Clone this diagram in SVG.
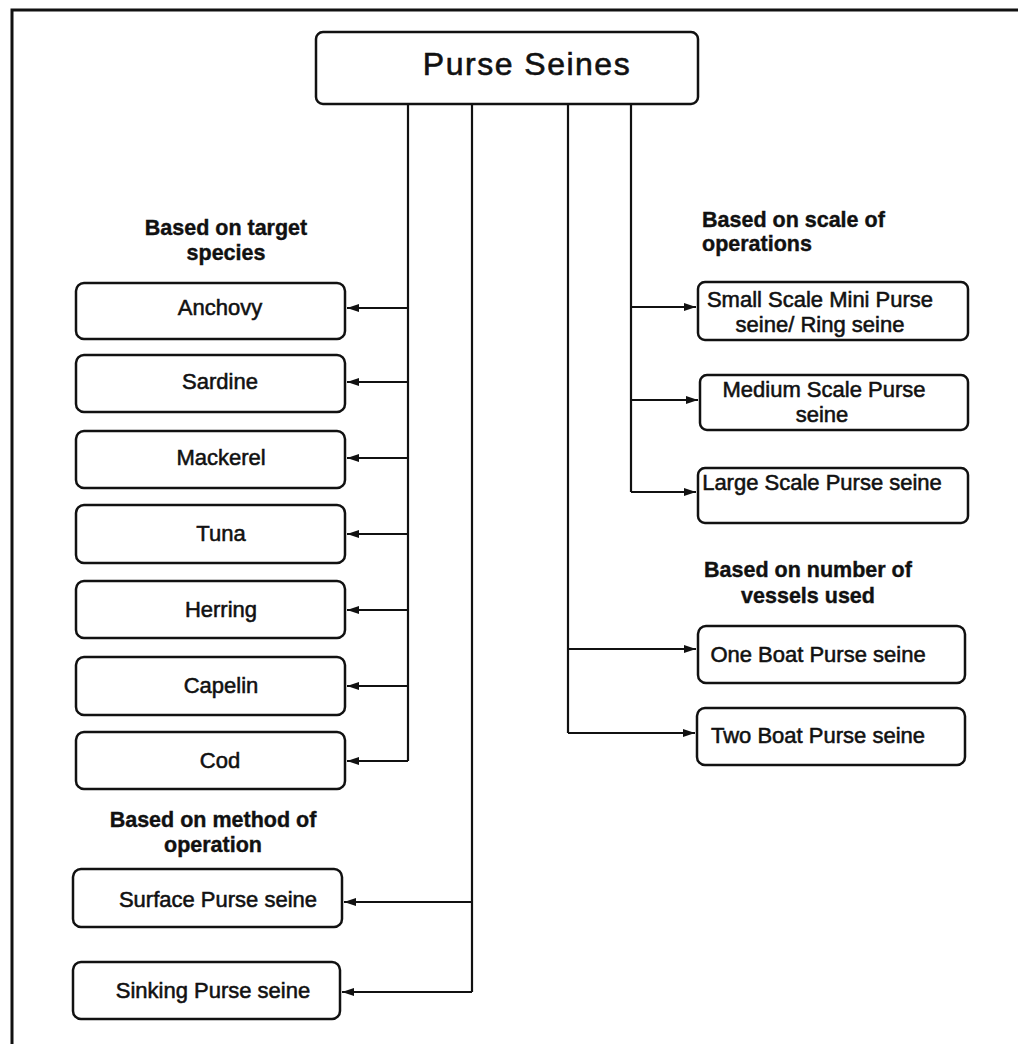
<svg xmlns="http://www.w3.org/2000/svg" width="1018" height="1044" viewBox="0 0 1018 1044">
<defs>
<style>
.box{fill:#fff;stroke:#111;stroke-width:2.5}
.lbl{font-family:"Liberation Sans",Arial,sans-serif;font-size:22px;fill:#111;stroke:#111;stroke-width:0.55;text-anchor:middle}
.hdr{font-family:"Liberation Sans",Arial,sans-serif;font-size:21.5px;font-weight:bold;fill:#111;stroke:#111;stroke-width:0.4;text-anchor:middle}
.conn{fill:none;stroke:#111;stroke-width:2.2}
.title{font-family:"Liberation Sans",Arial,sans-serif;font-size:32px;letter-spacing:1.5px;fill:#111;stroke:#111;stroke-width:0.6;text-anchor:middle}
</style>
<marker id="arr" markerUnits="userSpaceOnUse" markerWidth="14" markerHeight="10" refX="12" refY="5" orient="auto">
<path d="M0,1 L12,5 L0,9 z" fill="#111"/>
</marker>
</defs>
<rect width="1018" height="1044" fill="#fff"/>
<path d="M12,1044 V10 H1018" fill="none" stroke="#111" stroke-width="3"/>

<g id="root">
<rect class="box" x="316" y="32" width="382" height="72" rx="7"/>
<text class="title" x="527" y="75">Purse Seines</text>
</g>

<g id="headers">
<text class="hdr" x="226" y="235">Based on target</text>
<text class="hdr" x="226" y="260">species</text>
<text class="hdr" x="213" y="827">Based on method of</text>
<text class="hdr" x="213" y="852">operation</text>
<text class="hdr" x="702" y="227" style="text-anchor:start">Based on scale of</text>
<text class="hdr" x="702" y="251" style="text-anchor:start">operations</text>
<text class="hdr" x="808" y="577">Based on number of</text>
<text class="hdr" x="808" y="603">vessels used</text>
</g>

<g id="connectors">
<path class="conn" d="M408,104 V761"/>
<path class="conn" d="M472,104 V992"/>
<path class="conn" d="M568,104 V733"/>
<path class="conn" d="M631,104 V492"/>
<path class="conn" marker-end="url(#arr)" d="M408,308 H347"/>
<path class="conn" marker-end="url(#arr)" d="M408,382 H347"/>
<path class="conn" marker-end="url(#arr)" d="M408,458 H347"/>
<path class="conn" marker-end="url(#arr)" d="M408,534 H347"/>
<path class="conn" marker-end="url(#arr)" d="M408,610 H347"/>
<path class="conn" marker-end="url(#arr)" d="M408,686 H347"/>
<path class="conn" marker-end="url(#arr)" d="M408,761 H347"/>
<path class="conn" marker-end="url(#arr)" d="M472,902 H344"/>
<path class="conn" marker-end="url(#arr)" d="M472,992 H342"/>
<path class="conn" marker-end="url(#arr)" d="M631,307 H696"/>
<path class="conn" marker-end="url(#arr)" d="M631,400 H698"/>
<path class="conn" marker-end="url(#arr)" d="M631,492 H696"/>
<path class="conn" marker-end="url(#arr)" d="M568,649 H696"/>
<path class="conn" marker-end="url(#arr)" d="M568,733 H695"/>
</g>

<g id="anchovy"><rect class="box" x="76" y="283" width="269" height="56" rx="8"/><text class="lbl" x="220" y="315">Anchovy</text></g>
<g id="sardine"><rect class="box" x="76" y="355" width="269" height="57" rx="8"/><text class="lbl" x="220" y="389">Sardine</text></g>
<g id="mackerel"><rect class="box" x="76" y="431" width="269" height="57" rx="8"/><text class="lbl" x="221" y="465">Mackerel</text></g>
<g id="tuna"><rect class="box" x="76" y="505" width="269" height="58" rx="8"/><text class="lbl" x="221" y="541">Tuna</text></g>
<g id="herring"><rect class="box" x="76" y="581" width="269" height="57" rx="8"/><text class="lbl" x="221" y="617">Herring</text></g>
<g id="capelin"><rect class="box" x="76" y="657" width="269" height="58" rx="8"/><text class="lbl" x="221" y="693">Capelin</text></g>
<g id="cod"><rect class="box" x="76" y="732" width="269" height="57" rx="8"/><text class="lbl" x="220" y="768">Cod</text></g>

<g id="surface"><rect class="box" x="73" y="869" width="269" height="58" rx="8"/><text class="lbl" x="218" y="907">Surface Purse seine</text></g>
<g id="sinking"><rect class="box" x="73" y="962" width="267" height="57" rx="8"/><text class="lbl" x="213" y="998">Sinking Purse seine</text></g>

<g id="small"><rect class="box" x="698" y="282" width="270" height="58" rx="7"/><text class="lbl" x="820" y="307">Small Scale Mini Purse</text><text class="lbl" x="820" y="332">seine/ Ring seine</text></g>
<g id="medium"><rect class="box" x="700" y="375" width="268" height="55" rx="7"/><text class="lbl" x="824" y="397">Medium Scale Purse</text><text class="lbl" x="822" y="422">seine</text></g>
<g id="large"><rect class="box" x="698" y="468" width="270" height="55" rx="7"/><text class="lbl" x="822" y="490">Large Scale Purse seine</text></g>

<g id="oneboat"><rect class="box" x="698" y="626" width="267" height="57" rx="8"/><text class="lbl" x="818" y="662">One Boat Purse seine</text></g>
<g id="twoboat"><rect class="box" x="697" y="708" width="268" height="57" rx="8"/><text class="lbl" x="818" y="743">Two Boat Purse seine</text></g>
</svg>
